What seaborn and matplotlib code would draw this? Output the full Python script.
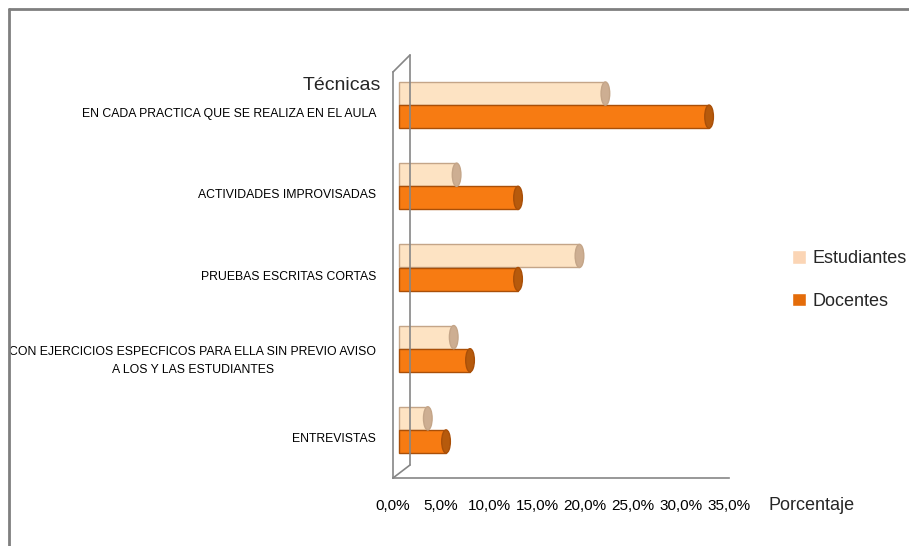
import matplotlib
matplotlib.use("Agg")
import matplotlib.pyplot as plt
import seaborn as sns
import pandas as pd
from matplotlib import transforms
from matplotlib.lines import Line2D
from matplotlib.patches import Patch, Ellipse

# datos
categorias = [
    "EN CADA PRACTICA QUE SE REALIZA EN EL AULA",
    "ACTIVIDADES IMPROVISADAS",
    "PRUEBAS ESCRITAS CORTAS",
    "CON EJERCICIOS ESPECFICOS PARA ELLA SIN PREVIO AVISO\nA LOS Y LAS ESTUDIANTES",
    "ENTREVISTAS",
]
estudiantes = [21.5, 6.0, 18.8, 5.7, 3.0]
docentes = [32.3, 12.4, 12.4, 7.4, 4.9]
grupos = ["Estudiantes", "Docentes"]
xticks = [0, 5, 10, 15, 20, 25, 30, 35]

df = pd.DataFrame({
    "Técnica": categorias * 2,
    "Porcentaje": estudiantes + docentes,
    "Grupo": [grupos[0]] * len(categorias) + [grupos[1]] * len(categorias),
})

gris = "#868686"
color_est = "#FDE3C3"
color_doc = "#F77B12"

sns.set_style("white")
plt.rcParams["font.family"] = ["Liberation Sans", "DejaVu Sans"]

W, H = 909, 546
fig = plt.figure(figsize=(W / 100, H / 100), dpi=100)

def px(x, y):
    return x / W, 1 - y / H

ax = fig.add_axes([393 / W, 1 - 478 / H, 336 / W, 406 / H])
sns.barplot(data=df, y="Técnica", x="Porcentaje", hue="Grupo", orient="h",
            palette={grupos[0]: color_est, grupos[1]: color_doc},
            width=0.57, saturation=1, ax=ax, legend=False)

# desplazamiento de profundidad (efecto 3D) y tapas de cilindro
offset = ax.transData + transforms.ScaledTranslation(0.06, 0.075, fig.dpi_scale_trans)
bordes = ["#C4A588", "#A94F08"]
tapas = ["#CDAE92", "#B65A0C"]
for cont, ec, tc in zip(ax.containers, bordes, tapas):
    for bar in cont:
        bar.set_transform(offset)
        bar.set_edgecolor(ec)
        bar.set_linewidth(1.0)
        yc = bar.get_y() + bar.get_height() / 2
        xe = bar.get_x() + bar.get_width()
        ax.add_patch(Ellipse((xe, yc), 0.9, bar.get_height(), facecolor=tc,
                             edgecolor=ec, lw=1.0, transform=offset, zorder=3))

ax.set_xlim(0, 35)
ax.set_ylim(len(categorias) - 0.5, -0.5)
ax.set_xticks(xticks)
ax.set_xticklabels([f"{v:.1f}%".replace(".", ",") for v in xticks])
ax.set_xlabel("")
ax.set_ylabel("")

ax.set_yticks(range(len(categorias)))
ax.set_yticks([i - 0.5 for i in range(len(categorias) + 1)], minor=True)
ax.tick_params(axis="x", length=4, color=gris, width=1.2, pad=11, labelsize=11,
               labelcolor="black")
ax.tick_params(axis="y", which="major", length=0, pad=12, labelsize=8.8,
               labelcolor="black")
ax.tick_params(axis="y", which="minor", length=4, color=gris, width=1.2)
for lbl in ax.get_yticklabels():
    lbl.set_multialignment("center")
    lbl.set_linespacing(1.7)

for s in ["top", "right"]:
    ax.spines[s].set_visible(False)
for s in ["left", "bottom"]:
    ax.spines[s].set_color(gris)
    ax.spines[s].set_linewidth(1.2)

# pared de fondo
for (x0, y0), (x1, y1) in [((393, 72), (410, 55)), ((410, 55), (410, 465)), ((410, 465), (393, 478))]:
    a, b = px(x0, y0)
    c, d = px(x1, y1)
    fig.add_artist(Line2D([a, c], [b, d], color=gris, lw=1.2, transform=fig.transFigure))

fig.text(*px(381, 86), "Técnicas", ha="right", va="center", fontsize=14, color="#262626")
fig.text(*px(768, 505), "Porcentaje", ha="left", va="center", fontsize=13, color="#262626")

handles = [Patch(facecolor="#FBD5B5"), Patch(facecolor="#E46C0A")]
fig.legend(handles=handles, labels=grupos, loc="center left",
           bbox_to_anchor=px(792, 280), frameon=False, fontsize=13, borderpad=0,
           borderaxespad=0, handlelength=0.75, handleheight=0.75, labelspacing=1.4,
           handletextpad=0.4)

# marco exterior (arriba e izquierda)
for (x0, y0), (x1, y1) in [((9, 9), (909, 9)), ((9, 9), (9, 546))]:
    a, b = px(x0, y0)
    c, d = px(x1, y1)
    fig.add_artist(Line2D([a, c], [b, d], color="#7F7F7F", lw=2, transform=fig.transFigure))

fig.savefig("out.png", dpi=100)
